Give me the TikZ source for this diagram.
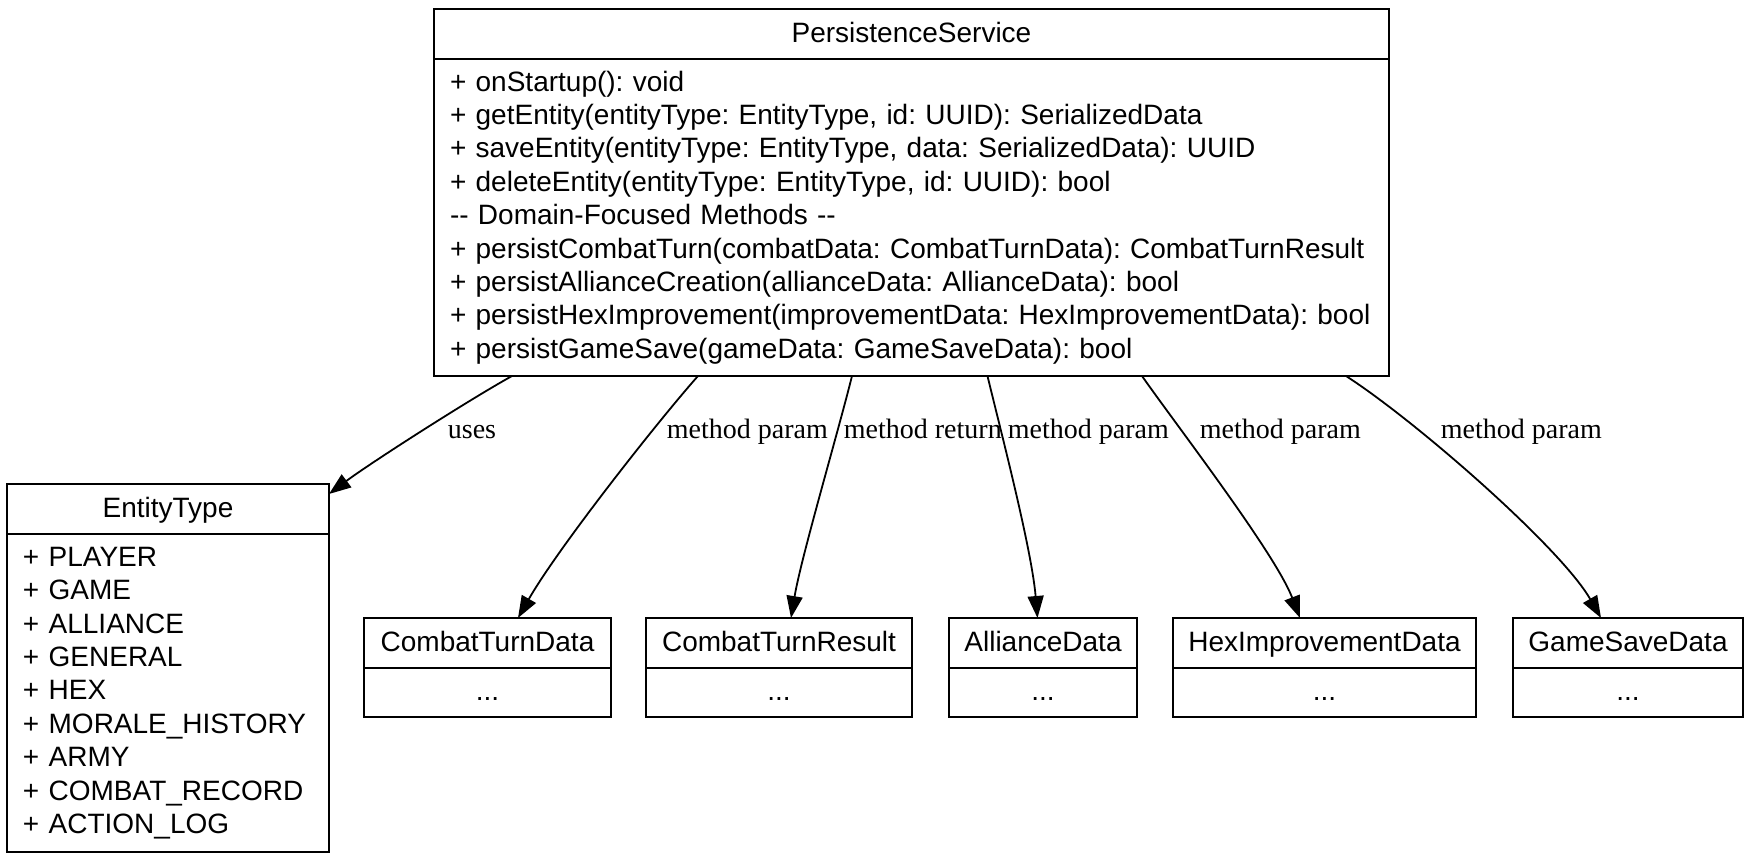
\documentclass[tikz,border=0pt]{standalone}
\usepackage{fontspec}
\setsansfont{Liberation Sans}
\newfontfamily\lblfont{Liberation Serif}
\usetikzlibrary{arrows.meta,positioning}
\frenchspacing

\begin{document}
\begin{tikzpicture}[x=0.5pt, y=-0.5pt, line width=0.9pt,
  font=\sffamily\fontsize{14pt}{16.7pt}\selectfont,
  head/.style={draw, minimum height=25pt, inner sep=0pt, outer sep=0pt, text height=10.5pt, text depth=2.5pt, anchor=north west},
  members/.style={draw, align=left, inner xsep=8pt, inner ysep=0pt, outer sep=0pt},
  dots/.style={draw, minimum height=24.5pt, inner sep=0pt, outer sep=0pt, text height=10.5pt, text depth=2.5pt},
  rel/.style={-{Triangle[length=11pt,width=8pt]}},
  lbl/.style={font=\lblfont\fontsize{14pt}{16pt}\selectfont, inner sep=0pt, anchor=base west}]
  \useasboundingbox (0,0) rectangle (1753,862);

  % service
  \node[head, minimum width=477.5pt] (psh) at (434,9) {PersistenceService};
  \node[members, text width=461.5pt, minimum height=158.5pt, below=0pt of psh] (ps) {%
    + onStartup(): void\\
    + getEntity(entityType: EntityType, id: UUID): SerializedData\\
    + saveEntity(entityType: EntityType, data: SerializedData): UUID\\
    + deleteEntity(entityType: EntityType, id: UUID): bool\\
    -{}- Domain-Focused Methods -{}-\\
    + persistCombatTurn(combatData: CombatTurnData): CombatTurnResult\\
    + persistAllianceCreation(allianceData: AllianceData): bool\\
    + persistHexImprovement(improvementData: HexImprovementData): bool\\
    + persistGameSave(gameData: GameSaveData): bool};

  % enum
  \node[head, minimum width=161pt] (eth) at (7,484) {EntityType};
  \node[members, text width=145pt, minimum height=159pt, below=0pt of eth] (et) {%
    + PLAYER\\
    + GAME\\
    + ALLIANCE\\
    + GENERAL\\
    + HEX\\
    + MORALE\_HISTORY\\
    + ARMY\\
    + COMBAT\_RECORD\\
    + ACTION\_LOG};

  % data classes
  \node[head, minimum width=123.5pt] (ctdh) at (364,618) {CombatTurnData};
  \node[dots, minimum width=123.5pt, below=0pt of ctdh] (ctd) {...};
  \node[head, minimum width=133pt] (ctrh) at (646,618) {CombatTurnResult};
  \node[dots, minimum width=133pt, below=0pt of ctrh] (ctr) {...};
  \node[head, minimum width=94pt] (adh) at (949,618) {AllianceData};
  \node[dots, minimum width=94pt, below=0pt of adh] (ad) {...};
  \node[head, minimum width=151.5pt] (hidh) at (1173,618) {HexImprovementData};
  \node[dots, minimum width=151.5pt, below=0pt of hidh] (hid) {...};
  \node[head, minimum width=115pt] (gsdh) at (1513,618) {GameSaveData};
  \node[dots, minimum width=115pt, below=0pt of gsdh] (gsd) {...};

  % relations
  \draw[rel] ([xshift=39pt]ps.south west) .. controls +(-45,25) and +(40,-30) .. ([yshift=-5pt]eth.north east);
  \draw[rel] ([xshift=132pt]ps.south west) .. controls +(-40,45) and +(40,-70) .. ([xshift=15.25pt]ctdh.north);
  \draw[rel] ([xshift=209pt]ps.south west) .. controls +(-15,60) and +(10,-60) .. ([xshift=6pt]ctrh.north);
  \draw[rel] ([xshift=276.75pt]ps.south west) .. controls +(12,50) and +(-6,-70) .. ([xshift=-2.75pt]adh.north);
  \draw[rel] ([xshift=354pt]ps.south west) .. controls +(35,50) and +(-25,-65) .. ([xshift=-12.25pt]hidh.north);
  \draw[rel] ([xshift=456pt]ps.south west) .. controls +(70,45) and +(-40,-70) .. ([xshift=-13.5pt]gsdh.north);

  \node[lbl] (uses) at (447,438) {uses};
  \node[lbl] (p1) at (666,438) {method param};
  \node[lbl] (r1) at (843,438) {method return};
  \node[lbl] (p2) at (1007,438) {method param};
  \node[lbl] (p3) at (1199,438) {method param};
  \node[lbl] (p4) at (1440,438) {method param};
\end{tikzpicture}
\end{document}
